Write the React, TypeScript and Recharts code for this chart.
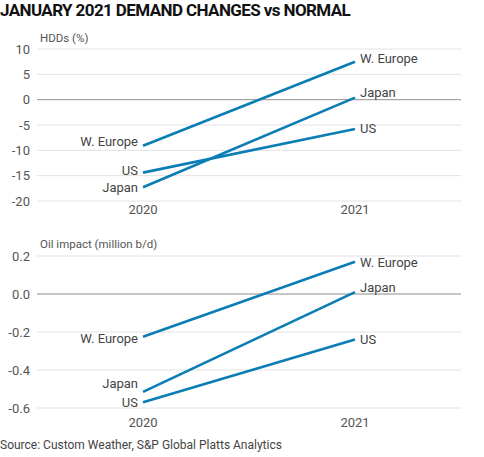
import React from 'react';
import { LineChart, Line, XAxis, YAxis, CartesianGrid, ReferenceLine, LabelList } from 'recharts';

const categories = ['2020', '2021'];
const seriesNames = ['W. Europe', 'Japan', 'US'];

const hddWEurope = [-9.1, 7.5];
const hddJapan = [-17.3, 0.4];
const hddUS = [-14.4, -5.8];

const oilWEurope = [-0.225, 0.17];
const oilJapan = [-0.515, 0.01];
const oilUS = [-0.57, -0.24];

const hddTicks = [-20, -15, -10, -5, 0, 5, 10];
const oilTicks = [-0.6, -0.4, -0.2, 0, 0.2];

const hddData = categories.map((c, i) => ({ year: c, we: hddWEurope[i], jp: hddJapan[i], us: hddUS[i] }));
const oilData = categories.map((c, i) => ({ year: c, we: oilWEurope[i], jp: oilJapan[i], us: oilUS[i] }));

const LINE = '#0B7DB5';
const FONT = 'Roboto, "Noto Sans", sans-serif';
const TICK = { fill: '#555', fontSize: 13, fontFamily: FONT };

// label vertical nudges [left, right]
const hddNudge = { we: [-4, -3], jp: [0, -5], us: [-2, -1] };
const oilNudge = { we: [1.5, 1], jp: [-8, -5], us: [0, 0] };

const makeLabel = (name: string, nudge: number[]) => (props: any) => {
  const { x, y, index } = props;
  const left = index === 0;
  return (
    <text
      x={left ? x - 5 : x + 5}
      y={y + nudge[index]}
      textAnchor={left ? 'end' : 'start'}
      dominantBaseline="central"
      fill="#444"
      fontSize={13}
      fontFamily={FONT}
    >
      {name}
    </text>
  );
};

const keys: ('we' | 'jp' | 'us')[] = ['we', 'jp', 'us'];

function Panel({ data, ticks, domain, fmt, nudge, height, top, tickMargin }: any) {
  return (
    <LineChart width={484} height={height} data={data} margin={{ top, right: 23, bottom: 0, left: 0 }}>
      <CartesianGrid horizontal vertical={false} stroke="#e2e2e2" />
      <XAxis
        dataKey="year"
        axisLine={false}
        tickLine={false}
        tickSize={0}
        tickMargin={tickMargin}
        height={21}
        tick={TICK}
        interval={0}
        padding={{ left: 106, right: 106 }}
      />
      <YAxis
        type="number"
        domain={domain}
        ticks={ticks}
        interval={0}
        width={37}
        axisLine={false}
        tickLine={false}
        tickMargin={1}
        tick={TICK}
        tickFormatter={fmt}
      />
      <ReferenceLine y={0} stroke="#9a9a9a" strokeWidth={1} />
      {keys.map((k, i) => (
        <Line
          key={k}
          dataKey={k}
          stroke={LINE}
          strokeWidth={2.6}
          dot={false}
          activeDot={false}
          isAnimationActive={false}
        >
          <LabelList dataKey={k} content={makeLabel(seriesNames[i], nudge[k])} />
        </Line>
      ))}
    </LineChart>
  );
}

export default function App() {
  return (
    <div style={{ position: 'absolute', left: 0, top: 0, width: 484, height: 457, background: '#fff', fontFamily: FONT }}>
      <div
        style={{
          position: 'absolute',
          left: 0,
          top: 0,
          fontSize: 17,
          fontWeight: 700,
          color: '#111',
          letterSpacing: -0.6,
          lineHeight: '20px',
          whiteSpace: 'nowrap',
        }}
      >
        JANUARY 2021 DEMAND CHANGES vs NORMAL
      </div>
      <div style={{ position: 'absolute', left: 0, top: 0 }}>
        <Panel
          data={hddData}
          ticks={hddTicks}
          domain={[-20, 10]}
          fmt={(v: number) => String(v)}
          nudge={hddNudge}
          height={222}
          top={49}
          tickMargin={4}
        />
      </div>
      <div style={{ position: 'absolute', left: 40, top: 31, fontSize: 11.5, color: '#555', whiteSpace: 'nowrap' }}>
        HDDs (%)
      </div>
      <div style={{ position: 'absolute', left: 0, top: 220 }}>
        <Panel
          data={oilData}
          ticks={oilTicks}
          domain={[-0.6, 0.2]}
          fmt={(v: number) => v.toFixed(1)}
          nudge={oilNudge}
          height={209}
          top={36}
          tickMargin={10}
        />
      </div>
      <div style={{ position: 'absolute', left: 40, top: 237, fontSize: 11.5, color: '#555', whiteSpace: 'nowrap' }}>
        Oil impact (million b/d)
      </div>
      <div style={{ position: 'absolute', left: 0, top: 438, fontSize: 12, color: '#444', whiteSpace: 'nowrap' }}>
        Source: Custom Weather, S&amp;P Global Platts Analytics
      </div>
    </div>
  );
}
